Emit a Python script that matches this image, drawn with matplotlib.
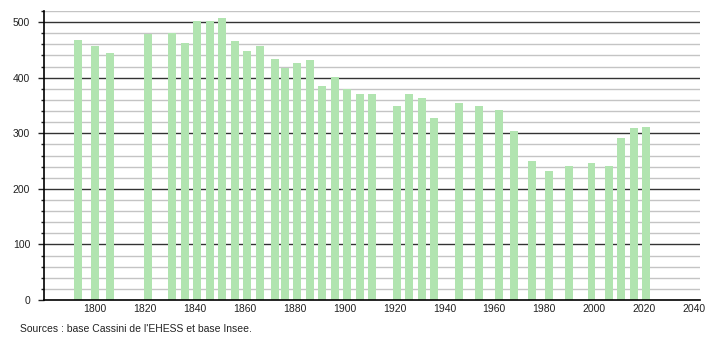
import matplotlib.pyplot as plt
from matplotlib.ticker import MultipleLocator

plt.rcParams['font.family'] = ['Liberation Sans', 'DejaVu Sans']

# census years and population
years = [1793, 1800, 1806, 1821, 1831, 1836, 1841, 1846, 1851, 1856,
         1861, 1866, 1872, 1876, 1881, 1886, 1891, 1896, 1901, 1906,
         1911, 1921, 1926, 1931, 1936, 1946, 1954, 1962, 1968, 1975,
         1982, 1990, 1999, 2006, 2011, 2016, 2021]
population = [468, 457, 445, 478, 480, 463, 502, 502, 508, 466,
              448, 457, 434, 418, 427, 432, 385, 401, 380, 371,
              371, 349, 371, 364, 328, 355, 349, 342, 304, 251,
              233, 242, 247, 242, 292, 310, 312]
source = "Sources : base Cassini de l'EHESS et base Insee."

W, H = 710, 340
fig = plt.figure(figsize=(W / 100, H / 100), dpi=100)
ax = fig.add_axes([44 / W, 40 / H, 656 / W, 289 / H])

# grid first, bars on top
for v in range(20, 521, 20):
    if v % 100 == 0:
        ax.axhline(v, color='#333333', linewidth=1.0, zorder=1)
    else:
        ax.axhline(v, color='#c4c4c4', linewidth=1.0, zorder=1)

ax.bar(years, population, width=3.2, color='#b1e4b0', zorder=2)

ax.set_xlim(1779.5, 2042.5)
ax.set_ylim(0, 520)
ax.set_xticks(range(1800, 2041, 20))
ax.yaxis.set_major_locator(MultipleLocator(100))
ax.yaxis.set_minor_locator(MultipleLocator(20))
ax.set_yticks(range(0, 501, 100))

ax.tick_params(axis='x', length=0, pad=3, labelsize=7.5, colors='#222222')
ax.tick_params(axis='y', which='major', length=4, width=1, pad=6,
               labelsize=7.5, colors='#222222')
ax.tick_params(axis='y', which='minor', length=2.5, width=1, colors='#222222')

for s in ['top', 'right']:
    ax.spines[s].set_visible(False)
for s in ['left', 'bottom']:
    ax.spines[s].set_color('black')
    ax.spines[s].set_linewidth(1.2)

fig.text(20 / W, 1 - 329 / H, source, fontsize=7.5, va='center', ha='left',
         color='#222222')

fig.savefig('out.png', dpi=100)
